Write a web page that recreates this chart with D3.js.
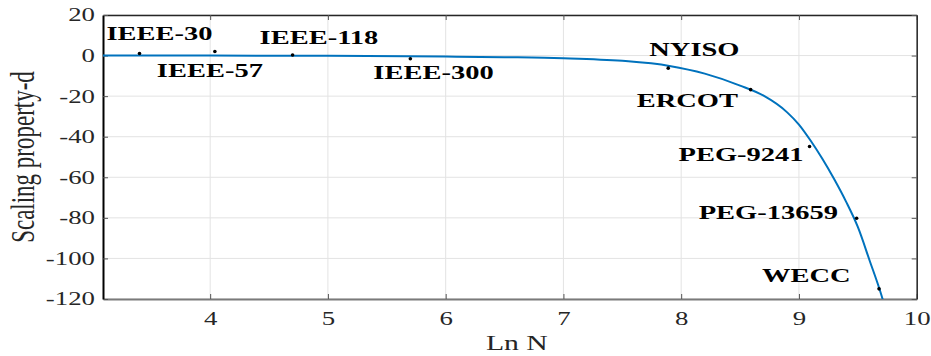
<!DOCTYPE html>
<html>
<head>
<meta charset="utf-8">
<script src="https://cdn.jsdelivr.net/npm/d3@7"></script>
<style>
  html, body { margin: 0; padding: 0; background: #fff; }
  svg { display: block; }
</style>
</head>
<body>
<svg id="chart" width="931" height="356"></svg>
<script>
// Grid systems: ln of bus count and the measured scaling property d
const systems = ["IEEE-30", "IEEE-57", "IEEE-118", "IEEE-300", "NYISO", "ERCOT", "PEG-9241", "PEG-13659", "WECC"];
const lnN = [3.40, 4.04, 4.70, 5.70, 7.89, 8.59, 9.09, 9.49, 9.68];
const dValues = [1.0, 2.0, 0.3, -1.6, -6.2, -16.8, -44.8, -80.2, -115.0];

// Fitted trend curve, sampled along ln N
const fitLnN = [3.09, 4.0, 5.0, 6.0, 6.5, 7.0, 7.5, 7.9, 8.2, 8.5, 8.7, 8.9, 9.0, 9.1, 9.2, 9.3, 9.4, 9.5, 9.6, 9.7, 9.75];
const fitD   = [0.0, 0.0, -0.1, -0.5, -0.8, -1.3, -2.6, -5.1, -8.9, -14.8, -19.8, -28.0, -34.0, -42.0, -51.0, -61.0, -72.0, -84.5, -101.0, -118.0, -128.0];

// Axis ticks
const xTicks = [4, 5, 6, 7, 8, 9, 10];
const yTicks = [-120, -100, -80, -60, -40, -20, 0, 20];

// Label placement relative to each marker (pixels: left edge, baseline)
const labelOffsets = [[-33, -13.5], [-58, 25.7], [-33, -11], [-37, 20.2], [-19, -12], [-114, 17.5], [-131, 14.3], [-158, 0.6], [-117, -7.3]];

const SX = 1.45;      // horizontal stretch of tick and title text
const SX_LABEL = 1.5; // horizontal stretch of system labels
const plot = { left: 103, right: 916.7, top: 15, bottom: 299 };

const svg = d3.select("#chart");
const x = d3.scaleLinear().domain([3.09, 10]).range([plot.left, plot.right]);
const y = d3.scaleLinear().domain([-120, 20]).range([plot.bottom, plot.top]);

// grid
const grid = svg.append("g").attr("stroke", "#e3e3e3").attr("stroke-width", 1);
grid.selectAll("line.gx").data(xTicks).join("line")
  .attr("x1", d => x(d)).attr("x2", d => x(d))
  .attr("y1", plot.top).attr("y2", plot.bottom);
grid.selectAll("line.gy").data(yTicks).join("line")
  .attr("x1", plot.left).attr("x2", plot.right)
  .attr("y1", d => y(d)).attr("y2", d => y(d));

function stretchText(sel) {
  sel.selectAll("text").each(function () {
    const t = d3.select(this);
    const tx = +t.attr("x") || 0, ty = +t.attr("y") || 0;
    t.attr("transform", `translate(${tx},${ty}) scale(${SX},1)`).attr("x", 0).attr("y", 0);
  });
}

const serif = "'Liberation Serif', 'Times New Roman', serif";
const plainNum = d => String(d); // hyphen-minus, as in the axis labels

// bottom axis
const gx = svg.append("g").attr("transform", `translate(0,${plot.bottom})`)
  .call(d3.axisBottom(x).tickValues(xTicks).tickFormat(plainNum)
    .tickSizeInner(-5).tickSizeOuter(0).tickPadding(12.5));
gx.select(".domain").attr("stroke", "#7a7a7a").attr("stroke-width", 2);
gx.selectAll(".tick line").attr("stroke", "#555");
gx.selectAll("text").attr("font-family", serif).attr("font-size", 18.5).attr("fill", "#262626");
stretchText(gx);

// top axis (ticks only)
const gxt = svg.append("g").attr("transform", `translate(0,${plot.top})`)
  .call(d3.axisTop(x).tickValues(xTicks).tickFormat("").tickSizeInner(-5).tickSizeOuter(0));
gxt.select(".domain").attr("stroke", "#262626").attr("stroke-width", 1.5);
gxt.selectAll(".tick line").attr("stroke", "#555");

// left axis
const gy = svg.append("g").attr("transform", `translate(${plot.left},0)`)
  .call(d3.axisLeft(y).tickValues(yTicks).tickFormat(plainNum)
    .tickSizeInner(-5).tickSizeOuter(0).tickPadding(8));
gy.select(".domain").attr("stroke", "#000").attr("stroke-width", 2);
gy.selectAll(".tick line").attr("stroke", "#555");
gy.selectAll("text").attr("font-family", serif).attr("font-size", 18.5).attr("fill", "#262626");
stretchText(gy);

// right axis (ticks only)
const gyr = svg.append("g").attr("transform", `translate(${plot.right},0)`)
  .call(d3.axisRight(y).tickValues(yTicks).tickFormat("").tickSizeInner(-5).tickSizeOuter(0));
gyr.select(".domain").attr("stroke", "#262626").attr("stroke-width", 1.5);
gyr.selectAll(".tick line").attr("stroke", "#555");

// fitted curve
svg.append("clipPath").attr("id", "plotClip").append("rect")
  .attr("x", plot.left).attr("y", plot.top)
  .attr("width", plot.right - plot.left).attr("height", plot.bottom - plot.top);

const fit = fitLnN.map((v, i) => [v, fitD[i]]);
svg.append("path").datum(fit)
  .attr("clip-path", "url(#plotClip)")
  .attr("fill", "none").attr("stroke", "#0072BD").attr("stroke-width", 2)
  .attr("d", d3.line().x(d => x(d[0])).y(d => y(d[1])).curve(d3.curveMonotoneX));

// markers
const pts = systems.map((s, i) => ({ name: s, x: lnN[i], d: dValues[i], off: labelOffsets[i] }));
svg.append("g").selectAll("circle").data(pts).join("circle")
  .attr("cx", d => x(d.x)).attr("cy", d => y(d.d)).attr("r", 1.8).attr("fill", "#000");

// labels
svg.append("g").selectAll("text").data(pts).join("text")
  .attr("transform", d => `translate(${x(d.x) + d.off[0]},${y(d.d) + d.off[1]}) scale(${SX_LABEL},1)`)
  .attr("font-family", serif).attr("font-weight", "bold").attr("font-size", 19)
  .attr("fill", "#000")
  .text(d => d.name);

// axis titles
svg.append("text")
  .attr("transform", `translate(${(plot.left + plot.right) / 2 + 7},350) scale(${SX},1)`)
  .attr("text-anchor", "middle")
  .attr("font-family", serif).attr("font-size", 20.5).attr("fill", "#262626")
  .text("Ln N");

svg.append("text")
  .attr("transform", `translate(34,${(plot.top + plot.bottom) / 2}) scale(${SX},1) rotate(-90)`)
  .attr("text-anchor", "middle")
  .attr("font-family", serif).attr("font-size", 23).attr("fill", "#262626")
  .text("Scaling property-d");
</script>
</body>
</html>
